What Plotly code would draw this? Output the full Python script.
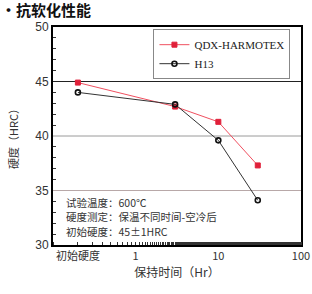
import plotly.graph_objects as go

# Data
x_labels = ["初始硬度", "1", "10", "100"]
x_tickvals = [0.2, 1, 10, 100]
hold_time = [0.2, 3, 10, 30]
qdx_hardness = [44.9, 42.7, 41.3, 37.3]
h13_hardness = [44.0, 42.9, 39.6, 34.1]
ref_lines = [45, 40, 35]
ref_colors = ["#222222", "#9a9a9a", "#b8a8a8"]
notes = ["试验温度：600℃", "硬度测定：保温不同时间-空冷后", "初始硬度：45±1HRC"]

fig = go.Figure()
fig.add_trace(go.Scatter(
    x=hold_time, y=qdx_hardness, name="QDX-HARMOTEX", mode="lines+markers",
    line=dict(color="#f05060", width=1),
    marker=dict(symbol="square", size=5, color="#e0203a", line=dict(color="#e0203a", width=1)),
))
fig.add_trace(go.Scatter(
    x=hold_time, y=h13_hardness, name="H13", mode="lines+markers",
    line=dict(color="#333333", width=1),
    marker=dict(symbol="circle-open", size=5, color="#111111", line=dict(width=1.6)),
))

for v, c in zip(ref_lines, ref_colors):
    fig.add_shape(type="line", xref="paper", x0=0, x1=1, yref="y", y0=v, y1=v,
                  line=dict(color=c, width=1), layer="below")

note_y = [0.197, 0.132, 0.064]
for t, yy in zip(notes, note_y):
    fig.add_annotation(text=t, xref="paper", yref="paper", x=0.045, y=yy,
                       xanchor="left", yanchor="middle", showarrow=False,
                       font=dict(family="Noto Sans CJK SC", size=10.5, color="#333333"))

fig.add_annotation(text="<b>·抗软化性能</b>", xref="paper", yref="paper",
                   x=-53/247, y=(245-10)/218, xanchor="left", yanchor="middle",
                   showarrow=False, borderpad=0,
                   font=dict(family="Noto Sans CJK SC", size=15, color="#111111"))

fig.update_layout(
    width=312, height=294,
    margin=dict(l=53, r=11, t=27, b=49, autoexpand=False),
    paper_bgcolor="white", plot_bgcolor="white",
    showlegend=True,
    legend=dict(x=0.405, y=0.99, xanchor="left", yanchor="top",
                bordercolor="#888888", borderwidth=1, bgcolor="white",
                font=dict(family="Liberation Serif", size=11, color="#222222"),
                itemwidth=30, tracegroupgap=0),
    xaxis=dict(type="log", range=[-1, 2], tickvals=x_tickvals, ticktext=x_labels,
               automargin=False,
               showgrid=False, zeroline=False, showline=True, mirror=True,
               linecolor="black", linewidth=2, ticks="",
               minor=dict(ticks="inside", ticklen=3, tickcolor="#333333", showgrid=False),
               tickfont=dict(family="Noto Sans CJK SC", size=11, color="#333333"),
               title=dict(text="保持时间（Hr）", standoff=4,
                          font=dict(family="Noto Sans CJK SC", size=12, color="#333333"))),
    yaxis=dict(range=[30, 50], dtick=5, showgrid=False, zeroline=False,
               automargin=False,
               showline=True, mirror=True, linecolor="black", linewidth=2,
               ticks="", minor=dict(dtick=1, ticks="inside", ticklen=3, tickcolor="#333333"),
               tickfont=dict(family="Liberation Sans", size=12, color="#333333"),
               title=dict(text="硬度（HRC）", standoff=14,
                          font=dict(family="Noto Sans CJK SC", size=11, color="#333333"))),
)

fig.write_html("out.html")
